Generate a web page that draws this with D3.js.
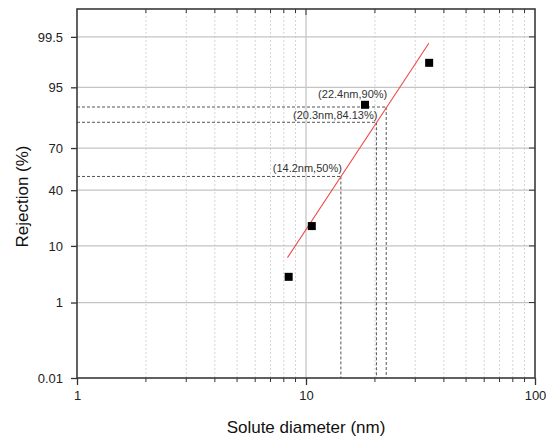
<!DOCTYPE html>
<html>
<head>
<meta charset="utf-8">
<script src="https://cdn.jsdelivr.net/npm/d3@7"></script>
<style>
  body { margin: 0; background: #fff; }
  text { font-family: "Liberation Sans", Arial, sans-serif; }
</style>
</head>
<body>
<script>
// measured points
const diameters = [8.4, 10.6, 18.1, 34.5];
const rejections = [3.2, 18, 90.7, 98.2];

// fitted line end points
const fitD = [8.3, 34.4];
const fitR = [6.7, 99.3];

// read-off marks on the fit
const markD = [14.2, 20.3, 22.4];
const markR = [50, 84.13, 90];
const markLabels = ["(14.2nm,50%)", "(20.3nm,84.13%)", "(22.4nm,90%)"];

const yTicks = [0.01, 1, 10, 40, 70, 95, 99.5];
const yTickLabels = ["0.01", "1", "10", "40", "70", "95", "99.5"];
const xTicks = [1, 10, 100];
const xMinor = [2, 3, 4, 5, 6, 7, 8, 9, 20, 30, 40, 50, 60, 70, 80, 90];

var width = 546,
    height = 441,
    margin = {top: 9, right: 11, bottom: 63, left: 77};

// inverse normal cdf (Acklam)
function probit(p) {
    var a = [-39.69683028665376, 220.9460984245205, -275.9285104469687, 138.3577518672690, -30.66479806614716, 2.506628277459239],
        b = [-54.47609879822406, 161.5858368580409, -155.6989798598866, 66.80131188771972, -13.28068155288572],
        c = [-0.007784894002430293, -0.3223964580411365, -2.400758277161838, -2.549732539343734, 4.374664141464968, 2.938163982698783],
        d = [0.007784695709041462, 0.3224671290700398, 2.445134137142996, 3.754408661907416];
    var pl = 0.02425, q, r;
    if (p < pl) {
        q = Math.sqrt(-2 * Math.log(p));
        return (((((c[0]*q+c[1])*q+c[2])*q+c[3])*q+c[4])*q+c[5]) / ((((d[0]*q+d[1])*q+d[2])*q+d[3])*q+1);
    }
    if (p > 1 - pl) {
        q = Math.sqrt(-2 * Math.log(1 - p));
        return -(((((c[0]*q+c[1])*q+c[2])*q+c[3])*q+c[4])*q+c[5]) / ((((d[0]*q+d[1])*q+d[2])*q+d[3])*q+1);
    }
    q = p - 0.5; r = q * q;
    return (((((a[0]*r+a[1])*r+a[2])*r+a[3])*r+a[4])*r+a[5])*q / (((((b[0]*r+b[1])*r+b[2])*r+b[3])*r+b[4])*r+1);
}
const pr = v => probit(v / 100);

var x = d3.scaleLog().domain([1, 100]).range([margin.left, width - margin.right]);
var yLin = d3.scaleLinear().domain([pr(0.01), pr(99.9)]).range([height - margin.bottom, margin.top]);
var y = v => yLin(pr(v));

var svg = d3.select('body').append('svg')
    .attr('width', width)
    .attr('height', height);

var x0 = margin.left, x1 = width - margin.right,
    y0 = height - margin.bottom, y1 = margin.top;

// minor vertical grid
svg.append('g').selectAll('line')
    .data(xMinor)
    .enter().append('line')
    .attr('x1', d => x(d)).attr('x2', d => x(d))
    .attr('y1', y0).attr('y2', y1)
    .attr('stroke', '#d4d4d4')
    .attr('stroke-dasharray', '2,2');

// major grid
svg.append('line')
    .attr('x1', x(10)).attr('x2', x(10)).attr('y1', y0).attr('y2', y1)
    .attr('stroke', '#b4b4b4');
svg.append('g').selectAll('line')
    .data(yTicks.slice(1))
    .enter().append('line')
    .attr('x1', x0).attr('x2', x1)
    .attr('y1', d => y(d)).attr('y2', d => y(d))
    .attr('stroke', '#c4c4c4')
    .attr('stroke-width', 1.2);

// dashed read-off lines
var marks = markD.map((d, i) => ({d: d, r: markR[i], label: markLabels[i]}));
var guides = svg.append('g')
    .attr('stroke', '#555')
    .attr('stroke-dasharray', '3,2')
    .attr('fill', 'none');
guides.selectAll('.h')
    .data(marks).enter().append('line')
    .attr('x1', x0).attr('x2', d => x(d.d))
    .attr('y1', d => y(d.r)).attr('y2', d => y(d.r));
guides.selectAll('.v')
    .data(marks).enter().append('line')
    .attr('x1', d => x(d.d)).attr('x2', d => x(d.d))
    .attr('y1', d => y(d.r)).attr('y2', y0);

// fit line
svg.append('line')
    .attr('x1', x(fitD[0])).attr('y1', y(fitR[0]))
    .attr('x2', x(fitD[1])).attr('y2', y(fitR[1]))
    .attr('stroke', '#f04848')
    .attr('stroke-width', 1.1);

// points
svg.append('g').selectAll('rect')
    .data(diameters)
    .enter().append('rect')
    .attr('x', d => x(d) - 4)
    .attr('y', (d, i) => y(rejections[i]) - 4)
    .attr('width', 8).attr('height', 8)
    .attr('fill', '#000');

// labels
var labelDy = [-4, -3, -9];
svg.append('g').selectAll('text')
    .data(marks).enter().append('text')
    .attr('x', d => x(d.d) + 1)
    .attr('y', (d, i) => y(d.r) + labelDy[i])
    .attr('text-anchor', 'end')
    .attr('font-size', 11)
    .attr('fill', '#333')
    .text(d => d.label);

// axes
var bottom = d3.axisBottom(x).tickValues(xTicks).tickFormat(d3.format('d')).tickSize(7).tickSizeOuter(0);
var gx = svg.append('g').attr('transform', `translate(0,${y0})`).call(bottom);
gx.select('.domain').remove();
gx.selectAll('.tick line').attr('stroke', '#333').attr('stroke-width', 1.3);
gx.selectAll('.tick text').attr('font-size', 13).attr('fill', '#222').attr('dy', '0.9em');
svg.append('g').selectAll('line')
    .data(xMinor).enter().append('line')
    .attr('x1', d => x(d)).attr('x2', d => x(d))
    .attr('y1', y0).attr('y2', y0 + 4)
    .attr('stroke', '#333');

var left = d3.axisLeft(yLin).tickValues(yTicks.map(pr))
    .tickFormat((d, i) => yTickLabels[i]).tickSize(6).tickSizeOuter(0);
var gy = svg.append('g').attr('transform', `translate(${x0},0)`).call(left);
gy.select('.domain').remove();
gy.selectAll('.tick line').attr('stroke', '#333').attr('stroke-width', 1.3);
gy.selectAll('.tick text').attr('font-size', 13).attr('fill', '#222').attr('x', -14);

// top ticks (inward)
svg.append('g').selectAll('line')
    .data(xMinor.concat([10])).enter().append('line')
    .attr('x1', d => x(d)).attr('x2', d => x(d))
    .attr('y1', y1).attr('y2', d => d === 10 ? y1 + 6 : y1 + 4)
    .attr('stroke', '#333');
// right ticks (inward)
svg.append('g').selectAll('line')
    .data(yTicks.slice(1)).enter().append('line')
    .attr('x1', x1).attr('x2', x1 - 6)
    .attr('y1', d => y(d)).attr('y2', d => y(d))
    .attr('stroke', '#333');

// frame
svg.append('rect')
    .attr('x', x0).attr('y', y1)
    .attr('width', x1 - x0).attr('height', y0 - y1)
    .attr('fill', 'none')
    .attr('stroke', '#3a3a3a')
    .attr('stroke-width', 1.6);

// titles
svg.append('text')
    .attr('x', (x0 + x1) / 2).attr('y', 433)
    .attr('text-anchor', 'middle')
    .attr('font-size', 17)
    .attr('fill', '#111')
    .text('Solute diameter (nm)');
svg.append('text')
    .attr('transform', `translate(28,${(y0 + y1) / 2 + 3}) rotate(-90)`)
    .attr('text-anchor', 'middle')
    .attr('font-size', 17)
    .attr('fill', '#111')
    .text('Rejection (%)');
</script>
</body>
</html>
